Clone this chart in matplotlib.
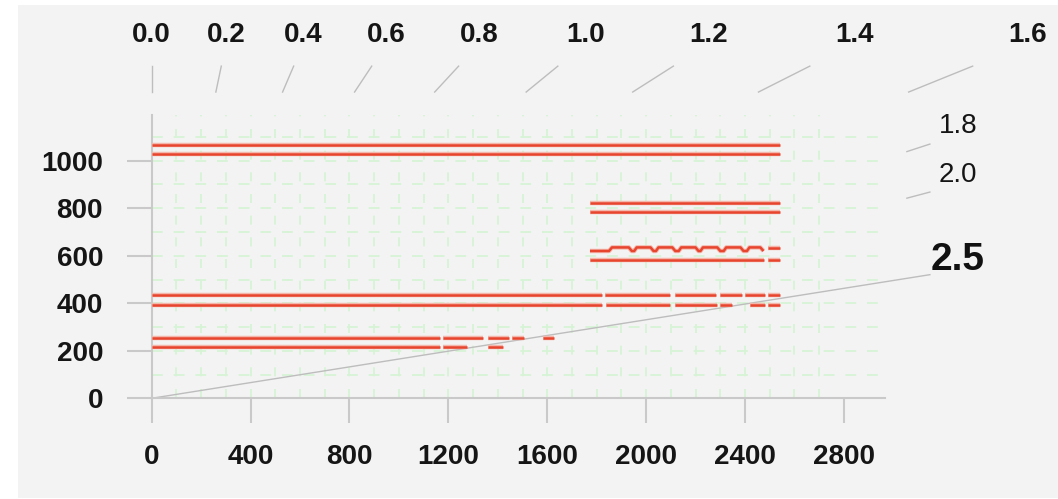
import numpy as np
import matplotlib
matplotlib.use("Agg")
import matplotlib.pyplot as plt
import matplotlib.patheffects as pe
from matplotlib.patches import Rectangle

plt.rcParams['font.family'] = ['Liberation Sans', 'DejaVu Sans']

# ---------------- data ----------------
x_ticks = [0, 400, 800, 1200, 1600, 2000, 2400, 2800]
y_ticks = [0, 200, 400, 600, 800, 1000]

# rapidity-like guide lines  (y = x / sinh(eta))
eta_top = [0.0, 0.2, 0.4, 0.6, 0.8, 1.0, 1.2, 1.4, 1.6]
eta_side = [1.8, 2.0]
eta_main = 2.5

# red tracks: y value and list of (x_start, x_end) pieces
track_y = [1066, 1028, 823, 784, 582, 433, 394, 253, 215]
track_segments = [
    [(0, 2542)],
    [(0, 2542)],
    [(1773, 2542)],
    [(1773, 2542)],
    [(1773, 2478), (2495, 2542)],
    [(0, 1822), (1834, 2097), (2117, 2283), (2299, 2388), (2400, 2481), (2493, 2542)],
    [(0, 1822), (1838, 2097), (2117, 2287), (2299, 2348), (2421, 2481), (2493, 2542)],
    [(0, 1166), (1178, 1340), (1360, 1445), (1457, 1506), (1583, 1628)],
    [(0, 1166), (1178, 1275), (1360, 1421)],
]

# wavy track near y=620
wave_x = [1773, 1850, 1862, 1930, 1942, 1952, 1962, 2018, 2030, 2040, 2050, 2106,
          2118, 2132, 2142, 2200, 2212, 2220, 2230, 2288, 2300, 2314, 2324, 2382,
          2394, 2408, 2418, 2462, 2475]
wave_y = [620, 620, 635, 635, 620, 620, 635, 635, 620, 620, 635, 635,
          620, 620, 635, 635, 620, 620, 635, 635, 620, 620, 635, 635,
          620, 620, 635, 635, 620]
wave_tail = [(2495, 2542)]
wave_tail_y = 631

# ---------------- figure ----------------
W, H = 1058, 499
fig = plt.figure(figsize=(W / 100, H / 100), dpi=100)
fig.patch.set_facecolor('white')
fig.patches.append(Rectangle((18 / W, 1 / H), 1 - 18 / W, (498 - 5) / H,
                             transform=fig.transFigure, facecolor='#f3f3f3',
                             edgecolor='none', zorder=-10))

x0_px, y0_px = 151.7, 398.3
sx, sy = 0.2472, 0.2376
xmax = (885 - x0_px) / sx
ymax = (y0_px - 115) / sy
ax = fig.add_axes([x0_px / W, (H - y0_px) / H, (885 - x0_px) / W, (y0_px - 115) / H])
ax.set_xlim(0, xmax)
ax.set_ylim(0, ymax)
ax.patch.set_visible(False)

spine_c = '#c9c9c9'
for s in ['top', 'right']:
    ax.spines[s].set_visible(False)
for s in ['left', 'bottom']:
    ax.spines[s].set_color(spine_c)
    ax.spines[s].set_linewidth(1.5)

ax.set_xticks(x_ticks)
ax.set_yticks(y_ticks)
ax.tick_params(axis='both', direction='out', length=18, width=1.5, color=spine_c,
               labelsize=20, labelcolor='#151515')
ax.tick_params(axis='x', pad=15)
ax.tick_params(axis='y', pad=17)
for lab in ax.get_xticklabels() + ax.get_yticklabels():
    lab.set_fontweight('bold')

# green dashed grid
grid_c = '#d6f4d6'
gx = [v for v in range(100, 2800, 100)]
gy = [v for v in range(100, 1200, 100)]
ax.vlines(gx, 0, ymax, colors=grid_c, linewidth=1.3, linestyles=(0, (5, 7)), zorder=1)
ax.hlines(gy, 0, xmax, colors=grid_c, linewidth=1.3, linestyles=(0, (6, 6)), zorder=1)

# gray guide lines
guide_c = '#bdbdbd'
y_in, y_out = 1289, 1398
x_in, x_out = 3055, 3148
for e in eta_top:
    k = np.sinh(e)
    ax.plot([k * y_in, k * y_out], [y_in, y_out], color=guide_c, lw=1.0,
            clip_on=False, zorder=2)
    ax.text(k * 1492, 1500, f"{e:.1f}", ha='center', va='baseline', fontsize=20,
            fontweight='bold', color='#151515', clip_on=False)
lab_x = 3261
for e in eta_side:
    k = np.sinh(e)
    ax.plot([x_in, x_out], [x_in / k, x_out / k], color=guide_c, lw=1.0,
            clip_on=False, zorder=2)
    ax.text(lab_x, lab_x / k + 10, f"{e:.1f}", ha='center', va='baseline',
            fontsize=20, color='#151515', clip_on=False)
k = np.sinh(eta_main)
ax.plot([0, x_out], [0, x_out / k], color=guide_c, lw=1.0, clip_on=False, zorder=2)
ax.text(lab_x, lab_x / k, f"{eta_main:.1f}", ha='center', va='baseline',
        fontsize=28, fontweight='bold', color='#111111', clip_on=False)

# red tracks
red = '#e8452f'
halo = [pe.Stroke(linewidth=3.2, foreground='#f3b7ab'), pe.Normal()]
for yv, segs in zip(track_y, track_segments):
    for a, b in segs:
        ax.plot([a, b], [yv, yv], color=red, lw=1.8, solid_capstyle='butt',
                path_effects=halo, zorder=3)
ax.plot(wave_x, wave_y, color=red, lw=1.8, solid_capstyle='butt',
        path_effects=halo, zorder=3)
for a, b in wave_tail:
    ax.plot([a, b], [wave_tail_y, wave_tail_y], color=red, lw=1.8,
            solid_capstyle='butt', path_effects=halo, zorder=3)

fig.savefig('out.png', dpi=100)
